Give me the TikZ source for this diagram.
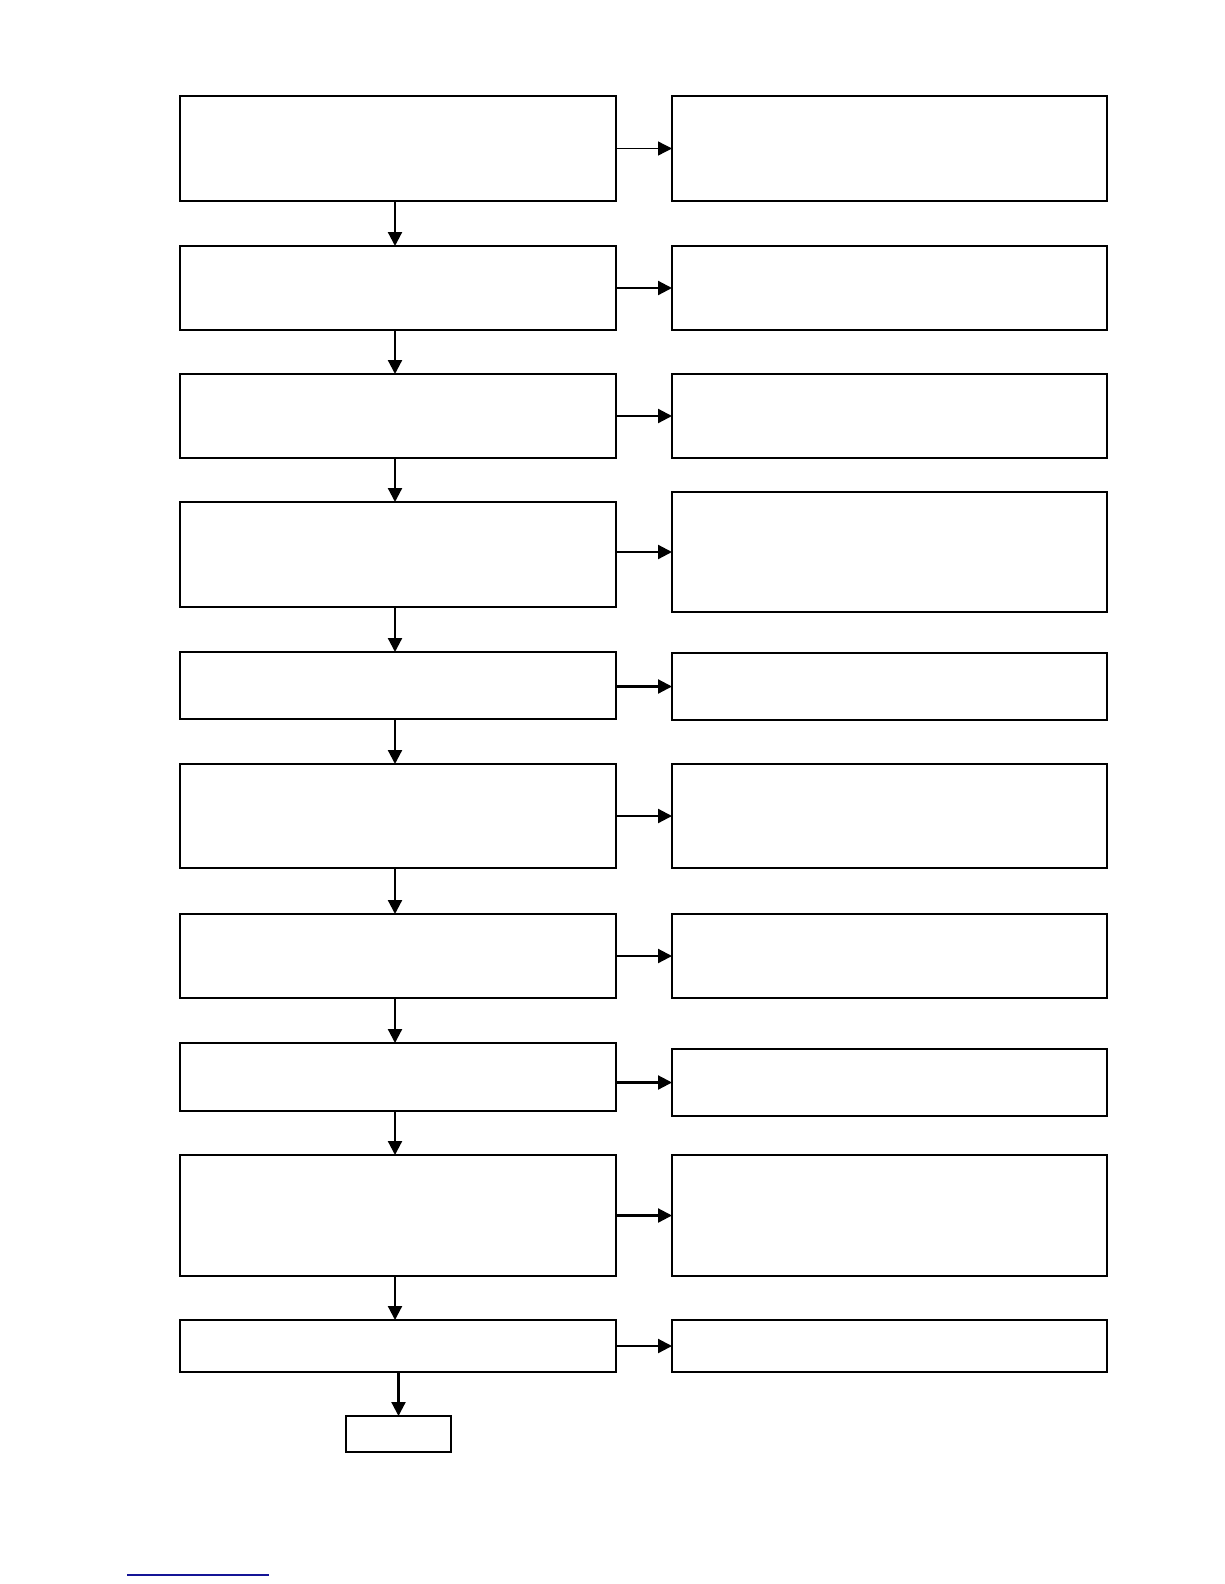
\documentclass[tikz,border=0pt]{standalone}
\usetikzlibrary{arrows.meta}
\begin{document}
\begin{tikzpicture}[x=1pt,y=-1pt,
  box/.style={draw=black,line width=1.4pt,fill=white,inner sep=0pt,outer sep=0pt,rectangle},
  lbox/.style={box,minimum width=436pt},
  rbox/.style={box,minimum width=435pt},
  arr/.style={line width=2.2pt,-{Triangle[length=14pt,width=14pt]}},
  thinarr/.style={line width=1.3pt,-{Triangle[length=14pt,width=14pt]}}]
\useasboundingbox (0,0) rectangle (1224,1584);
% left column (center x = 398)
\node[lbox,minimum height=105pt] (L1) at (398,148.5) {};
\node[lbox,minimum height=84pt]  (L2) at (398,288) {};
\node[lbox,minimum height=84pt]  (L3) at (398,416) {};
\node[lbox,minimum height=105pt] (L4) at (398,554.5) {};
\node[lbox,minimum height=67pt]  (L5) at (398,685.5) {};
\node[lbox,minimum height=104pt] (L6) at (398,816) {};
\node[lbox,minimum height=84pt]  (L7) at (398,956) {};
\node[lbox,minimum height=68pt]  (L8) at (398,1077) {};
\node[lbox,minimum height=121pt] (L9) at (398,1215.5) {};
\node[lbox,minimum height=52pt]  (L10) at (398,1346) {};
% right column (center x = 889.5)
\node[rbox,minimum height=105pt] (R1) at (889.5,148.5) {};
\node[rbox,minimum height=84pt]  (R2) at (889.5,288) {};
\node[rbox,minimum height=84pt]  (R3) at (889.5,416) {};
\node[rbox,minimum height=120pt] (R4) at (889.5,552) {};
\node[rbox,minimum height=67pt]  (R5) at (889.5,686.5) {};
\node[rbox,minimum height=104pt] (R6) at (889.5,816) {};
\node[rbox,minimum height=84pt]  (R7) at (889.5,956) {};
\node[rbox,minimum height=67pt]  (R8) at (889.5,1082.5) {};
\node[rbox,minimum height=121pt] (R9) at (889.5,1215.5) {};
\node[rbox,minimum height=52pt]  (R10) at (889.5,1346) {};
% final box
\node[box,minimum width=105pt,minimum height=36pt] (F) at (398.5,1434) {};
% vertical connector x
\coordinate (vx) at (395,0);
\foreach \a/\b in {L1/L2,L2/L3,L3/L4,L4/L5,L5/L6,L6/L7,L7/L8,L8/L9,L9/L10}
  \draw[arr] (\a.south -| vx) -- (\b.north -| vx);
\draw[arr] (L10.south -| F.north) -- (F.north);
% horizontal connectors
\draw[thinarr] (R1.west -| L1.east) -- (R1.west);
\foreach \i in {2,...,10}
  \draw[arr] (R\i.west -| L\i.east) -- (R\i.west);
% blue underline at the bottom
\coordinate (u1) at (127,1575);
\coordinate (u2) at (269,1575);
\draw[line width=1.4pt,color={rgb,255:red,20;green,20;blue,150}] (u1) -- (u2);
\end{tikzpicture}
\end{document}
